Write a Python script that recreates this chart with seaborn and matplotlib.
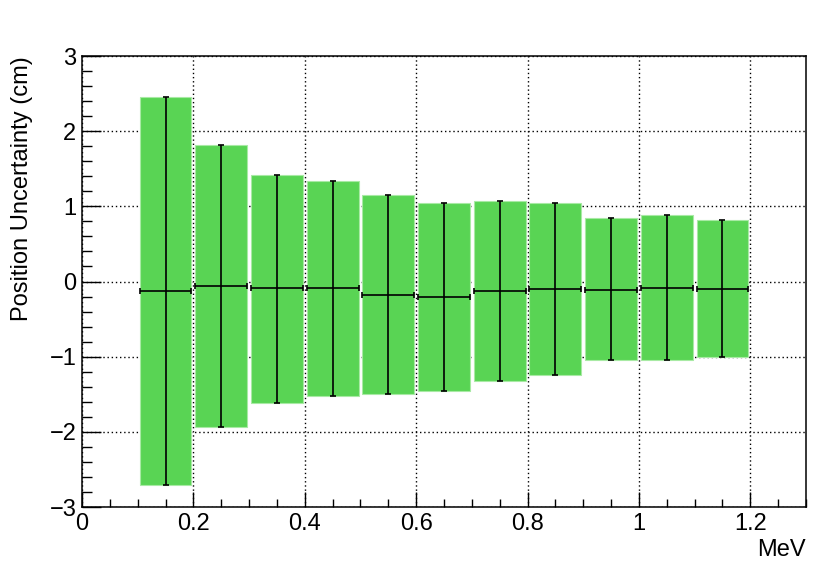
import numpy as np
import pandas as pd
import matplotlib
matplotlib.use("Agg")
import matplotlib.pyplot as plt
from matplotlib.ticker import MultipleLocator
import seaborn as sns

# bin centres (MeV) and the band / mean values (cm)
energy = [0.15, 0.25, 0.35, 0.45, 0.55, 0.65, 0.75, 0.85, 0.95, 1.05, 1.15]
upper = [2.46, 1.82, 1.42, 1.34, 1.15, 1.04, 1.07, 1.05, 0.84, 0.89, 0.82]
lower = [-2.71, -1.94, -1.61, -1.52, -1.50, -1.45, -1.32, -1.25, -1.05, -1.05, -1.01]
mean = [-0.13, -0.06, -0.09, -0.09, -0.18, -0.21, -0.13, -0.10, -0.11, -0.09, -0.10]
bin_width = 0.1

sns.set_style("white")
plt.rcParams["font.family"] = ["Liberation Sans", "DejaVu Sans"]
plt.rcParams["text.color"] = "black"
plt.rcParams["axes.labelcolor"] = "black"

data = pd.DataFrame({"energy": energy, "upper": upper, "lower": lower, "mean": mean})
data["span"] = data["upper"] - data["lower"]

fig = plt.figure(figsize=(8.3, 5.64), dpi=100)
ax = fig.add_axes([0.0988, 0.101, 0.8723, 0.7997])

ax.bar(data["energy"], data["span"], bottom=data["lower"], width=0.093,
       color="#59d454", edgecolor="#a8eaa4", linewidth=0.8, zorder=2)

yerr = [data["mean"] - data["lower"], data["upper"] - data["mean"]]
ax.errorbar(data["energy"], data["mean"], xerr=bin_width * 0.465, yerr=yerr,
            fmt="none", ecolor="black", elinewidth=1.2, capsize=2, capthick=1.2,
            zorder=3)

ax.set_xlim(0, 1.3)
ax.set_ylim(-3, 3)
ax.xaxis.set_major_locator(MultipleLocator(0.2))
ax.xaxis.set_minor_locator(MultipleLocator(0.05))
ax.yaxis.set_major_locator(MultipleLocator(1))
ax.yaxis.set_minor_locator(MultipleLocator(0.2))
ax.xaxis.set_major_formatter(plt.FuncFormatter(lambda v, p: f"{v:g}"))

ax.grid(True, which="major", color="black", linestyle=(0, (1, 2)), linewidth=1.0, zorder=1)
ax.set_axisbelow(True)

for s in ["top", "right", "left", "bottom"]:
    ax.spines[s].set_linewidth(1.1)
    ax.spines[s].set_color("black")

ax.tick_params(axis="both", which="both", direction="in", labelsize=17, colors="black",
               labelcolor="black", bottom=True, left=True, top=False, right=False)
ax.tick_params(axis="y", which="major", length=14, width=1.0, pad=4)
ax.tick_params(axis="y", which="minor", length=7, width=1.0)
ax.tick_params(axis="x", which="major", length=11, width=1.0, pad=4)
ax.tick_params(axis="x", which="minor", length=5.5, width=1.0)

ax.set_ylabel("Position Uncertainty (cm)", fontsize=17, loc="top", labelpad=12, color="black")
ax.set_xlabel("MeV", fontsize=17, loc="right", labelpad=3, color="black")

fig.savefig("out.png", dpi=100)
plt.close(fig)
